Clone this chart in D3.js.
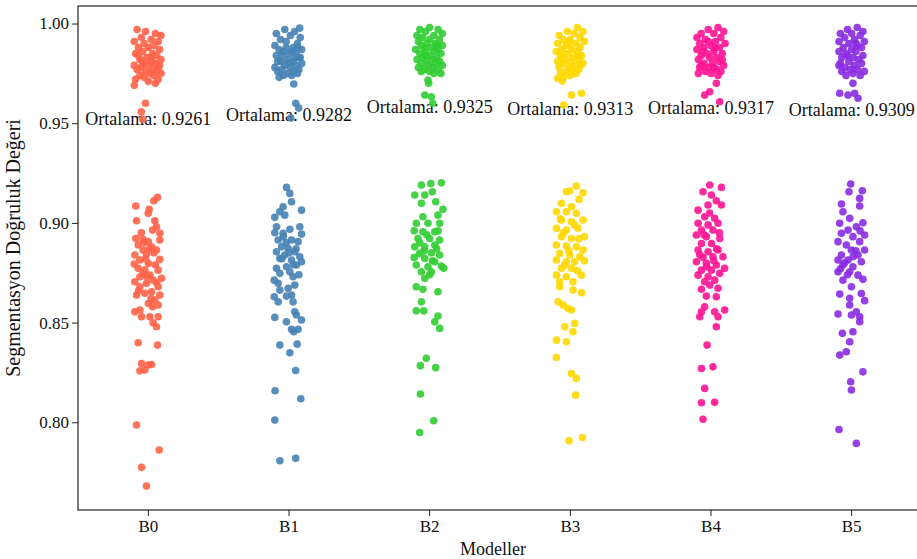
<!DOCTYPE html>
<html><head><meta charset="utf-8">
<script src="https://cdn.jsdelivr.net/npm/d3@7"></script>
<style>body{margin:0;background:#fff}svg{display:block}</style>
</head><body>
<svg id="c" width="917" height="559"></svg>
<script>
const categories = ["B0","B1","B2","B3","B4","B5"];
const colors = ["#FF6347","#4682B4","#32CD32","#FFD700","#FF1493","#8A2BE2"];
const means = [0.9261,0.9282,0.9325,0.9313,0.9317,0.9309];
const yTicks = [0.80,0.85,0.90,0.95,1.00];
// points: [jitter offset in category units, value]
const B0 = [[-0.08,0.997],[-0.02,0.996],[0.05,0.995],[0.09,0.994],[-0.05,0.993],[0.02,0.992],[-0.10,0.991],[0.07,0.991],[-0.03,0.990],[0.04,0.989],[-0.07,0.988],[0.00,0.988],[0.08,0.987],[-0.04,0.986],[0.03,0.985],[-0.09,0.985],[0.06,0.984],[-0.01,0.983],[-0.06,0.982],[0.09,0.982],[0.02,0.981],[-0.03,0.980],[0.05,0.980],[-0.10,0.979],[0.00,0.979],[0.07,0.978],[-0.05,0.978],[0.03,0.977],[-0.08,0.977],[0.06,0.976],[-0.02,0.976],[0.01,0.975],[0.09,0.975],[-0.06,0.974],[0.04,0.974],[-0.03,0.973],[0.07,0.972],[-0.09,0.972],[0.00,0.971],[0.05,0.970],[-0.10,0.969],[0.02,0.983],[-0.07,0.984],[0.08,0.979],[-0.04,0.981],[-0.02,0.960],[-0.05,0.9557],[-0.04,0.952],
[0.065,0.9128],[0.039,0.9111],[-0.089,0.9085],[0.006,0.9068],[-0.001,0.9048],[-0.084,0.9011],[0.046,0.9011],[0.058,0.8981],[0.030,0.8964],[0.082,0.8948],[-0.089,0.8922],[-0.037,0.8917],[0.000,0.8906],[0.082,0.8914],[-0.072,0.8889],[0.023,0.8880],[-0.037,0.8864],[0.058,0.8864],[-0.096,0.8839],[-0.013,0.8844],[0.082,0.8817],[-0.060,0.8814],[-0.100,0.8794],[0.000,0.8797],[-0.072,0.8772],[-0.025,0.8763],[0.070,0.8763],[0.011,0.8738],[-0.060,0.8730],[0.094,0.8722],[0.034,0.8713],[-0.096,0.8705],[-0.013,0.8697],[-0.060,0.8680],[0.070,0.8680],[0.023,0.8655],[-0.025,0.8647],[0.082,0.8638],[-0.084,0.8638],[0.046,0.8613],[0.000,0.8596],[0.070,0.8588],[-0.060,0.8563],[-0.096,0.8554],[-0.048,0.8529],[0.011,0.8529],[0.070,0.8529],[0.034,0.8499],[0.058,0.8479],[-0.072,0.8399],[0.065,0.8387],[-0.048,0.8295],[0.000,0.8287],[0.023,0.8290],[-0.060,0.8258],[-0.025,0.8262],[-0.084,0.7986],[0.077,0.7861],[-0.048,0.7774],[-0.013,0.7680],
[-0.05,0.8950],[0.01,0.8870],[-0.02,0.8820],[0.05,0.8790],[-0.04,0.8745],[0.06,0.8700],[-0.07,0.8660],[0.02,0.8620],[-0.03,0.8900],[0.04,0.8850],[-0.01,0.8730],[0.03,0.8580]];
const B1 = [[-0.09,0.995],[-0.03,0.997],[0.04,0.996],[0.08,0.993],[-0.06,0.992],[0.01,0.994],[-0.10,0.989],[0.06,0.990],[-0.02,0.991],[0.03,0.988],[-0.07,0.987],[0.09,0.987],[-0.04,0.986],[0.00,0.985],[0.05,0.985],[-0.09,0.984],[0.07,0.983],[-0.01,0.982],[-0.06,0.981],[0.03,0.981],[0.09,0.980],[-0.03,0.979],[0.05,0.979],[-0.10,0.978],[0.01,0.978],[-0.05,0.977],[0.07,0.977],[-0.08,0.976],[0.03,0.976],[-0.01,0.975],[0.06,0.975],[-0.04,0.974],[0.02,0.974],[-0.07,0.973],[0.08,0.983],[-0.02,0.988],[0.04,0.983],[-0.08,0.981],[0.00,0.980],[-0.05,0.984],[0.02,0.986],[0.06,0.988],[0.076,0.9977],[0.034,0.9697],[0.048,0.960],[0.069,0.9576],[0.013,0.9526],
[-0.018,0.9178],[0.006,0.9148],[0.018,0.9106],[-0.042,0.9081],[0.089,0.9064],[-0.065,0.9056],[-0.101,0.9028],[-0.030,0.9039],[-0.089,0.8981],[0.077,0.8981],[0.006,0.8968],[-0.101,0.8951],[-0.042,0.8948],[0.089,0.8944],[-0.077,0.8914],[0.018,0.8914],[0.065,0.8906],[-0.053,0.8880],[-0.006,0.8872],[-0.089,0.8855],[0.041,0.8855],[-0.030,0.8839],[0.077,0.8830],[-0.065,0.8822],[0.018,0.8814],[0.089,0.8805],[0.053,0.8789],[-0.018,0.8780],[-0.089,0.8772],[0.006,0.8755],[-0.065,0.8747],[0.029,0.8730],[-0.105,0.8713],[-0.077,0.8697],[-0.006,0.8672],[0.041,0.8688],[-0.065,0.8663],[-0.105,0.8630],[0.018,0.8638],[-0.018,0.8633],[-0.077,0.8604],[0.029,0.8604],[0.041,0.8554],[0.053,0.8538],[-0.101,0.8526],[0.089,0.8513],[-0.018,0.8504],[0.018,0.8466],[0.065,0.8466],[0.034,0.8454],[-0.065,0.8387],[0.058,0.8392],[0.006,0.8349],[0.048,0.8260],[-0.099,0.8158],[0.084,0.8118],[-0.101,0.8011],[-0.065,0.7807],[0.048,0.7819],
[-0.04,0.8930],[0.05,0.8870],[-0.02,0.8900],[0.03,0.8790],[-0.05,0.8820],[0.07,0.8740],[0.00,0.8850]];
const B2 = [[-0.07,0.997],[0.00,0.998],[0.06,0.997],[-0.03,0.996],[0.09,0.995],[-0.09,0.994],[0.03,0.994],[-0.05,0.993],[0.07,0.992],[0.00,0.992],[-0.08,0.991],[0.04,0.990],[-0.02,0.990],[0.09,0.989],[-0.06,0.989],[0.01,0.988],[-0.10,0.987],[0.06,0.987],[-0.03,0.986],[0.03,0.986],[-0.07,0.985],[0.08,0.985],[0.00,0.984],[-0.05,0.983],[0.05,0.983],[-0.09,0.982],[0.02,0.982],[-0.02,0.981],[0.07,0.981],[-0.06,0.980],[0.04,0.980],[-0.01,0.979],[0.09,0.979],[-0.08,0.978],[0.02,0.978],[-0.04,0.977],[0.06,0.977],[0.00,0.976],[-0.06,0.976],[0.03,0.975],[0.08,0.975],[-0.03,0.984],[0.05,0.989],[-0.04,0.988],[-0.012,0.9717],[-0.007,0.970],[-0.035,0.9641],[0.012,0.9633],[0.022,0.960],
[-0.059,0.9190],[0.008,0.9198],[0.083,0.9201],[-0.106,0.9140],[-0.035,0.9140],[0.019,0.9156],[-0.059,0.9098],[0.043,0.9106],[0.095,0.9068],[0.059,0.9039],[-0.048,0.9031],[-0.095,0.8998],[-0.012,0.8998],[0.071,0.8998],[-0.110,0.8961],[-0.048,0.8956],[0.036,0.8956],[-0.083,0.8922],[0.000,0.8922],[0.071,0.8914],[-0.106,0.8880],[-0.035,0.8880],[0.036,0.8889],[-0.071,0.8847],[0.012,0.8850],[0.071,0.8839],[-0.110,0.8827],[-0.035,0.8822],[0.036,0.8805],[-0.095,0.8789],[-0.012,0.8780],[0.083,0.8784],[-0.059,0.8755],[0.012,0.8755],[0.100,0.8772],[-0.035,0.8722],[-0.095,0.8680],[-0.048,0.8667],[0.059,0.8655],[-0.059,0.8604],[-0.095,0.8559],[-0.042,0.8559],[0.059,0.8533],[0.036,0.8504],[0.071,0.8471],[-0.024,0.8321],[-0.066,0.8284],[0.043,0.8274],[-0.066,0.8142],[0.029,0.8008],[-0.071,0.7949],
[-0.02,0.8940],[0.05,0.8870],[-0.07,0.8900],[0.02,0.8810],[-0.04,0.8860],[0.06,0.8960],[0.00,0.8740]];
const B3 = [[0.05,0.998],[0.09,0.996],[-0.02,0.996],[-0.08,0.994],[0.03,0.995],[0.07,0.993],[-0.05,0.992],[0.00,0.992],[0.10,0.991],[-0.09,0.990],[0.04,0.990],[-0.03,0.989],[0.07,0.988],[-0.06,0.987],[0.01,0.987],[-0.10,0.986],[0.05,0.986],[-0.02,0.985],[0.08,0.984],[-0.07,0.984],[0.02,0.983],[-0.04,0.982],[0.06,0.982],[-0.09,0.981],[0.00,0.981],[0.09,0.980],[-0.05,0.980],[0.03,0.979],[-0.01,0.978],[-0.08,0.978],[0.06,0.977],[-0.03,0.976],[0.02,0.976],[-0.07,0.975],[0.04,0.975],[0.00,0.974],[-0.05,0.973],[-0.09,0.9725],[0.07,0.979],[-0.06,0.983],[0.05,0.984],[-0.01,0.990],[-0.056,0.9712],[0.008,0.9641],[0.079,0.9650],[-0.047,0.9591],
[0.043,0.9185],[-0.028,0.9156],[-0.004,0.9160],[0.090,0.9151],[0.062,0.9118],[-0.063,0.9098],[0.008,0.9081],[-0.099,0.9056],[-0.028,0.9056],[0.043,0.9048],[0.090,0.9014],[-0.063,0.9014],[0.008,0.9006],[-0.099,0.8973],[-0.028,0.8964],[0.055,0.8973],[0.100,0.8931],[-0.063,0.8931],[0.008,0.8922],[-0.099,0.8889],[-0.028,0.8884],[0.043,0.8880],[0.090,0.8864],[-0.075,0.8847],[-0.004,0.8839],[0.067,0.8830],[-0.099,0.8814],[-0.028,0.8805],[0.031,0.8805],[0.100,0.8810],[-0.063,0.8772],[0.008,0.8772],[-0.099,0.8738],[-0.028,0.8730],[0.079,0.8738],[-0.075,0.8705],[0.019,0.8705],[-0.075,0.8680],[0.019,0.8663],[0.079,0.8650],[-0.087,0.8604],[-0.052,0.8588],[-0.016,0.8571],[0.008,0.8563],[0.031,0.8496],[-0.040,0.8479],[0.019,0.8454],[-0.099,0.8412],[-0.028,0.8404],[-0.099,0.8325],[0.008,0.8245],[0.043,0.8220],[0.038,0.8136],[-0.009,0.7907],[0.086,0.7924],
[-0.05,0.8950],[0.03,0.8990],[-0.01,0.8860],[0.06,0.8920],[-0.04,0.8790],[0.05,0.8760],[-0.07,0.9020]];
const B4 = [[-0.02,0.997],[0.05,0.998],[0.09,0.996],[-0.07,0.995],[0.02,0.995],[-0.10,0.993],[0.07,0.993],[-0.04,0.992],[0.03,0.991],[-0.08,0.990],[0.10,0.990],[0.00,0.989],[-0.05,0.988],[0.06,0.988],[-0.10,0.987],[0.02,0.986],[-0.03,0.985],[0.08,0.985],[-0.07,0.984],[0.04,0.983],[-0.01,0.983],[-0.09,0.982],[0.06,0.981],[0.01,0.980],[-0.05,0.980],[0.09,0.979],[-0.02,0.978],[-0.08,0.978],[0.04,0.977],[0.07,0.976],[-0.04,0.976],[0.00,0.975],[-0.09,0.975],[0.05,0.974],[-0.06,0.986],[0.03,0.988],[-0.02,0.991],[0.08,0.982],[-0.07,0.979],[0.02,0.978],[0.038,0.970],[-0.009,0.9658],[-0.045,0.9641],[0.062,0.9608],
[-0.009,0.9190],[0.074,0.9178],[-0.057,0.9156],[0.003,0.9140],[0.038,0.9111],[-0.021,0.9090],[0.074,0.9090],[-0.092,0.9064],[-0.045,0.9031],[0.026,0.9023],[0.050,0.8998],[-0.092,0.8998],[-0.021,0.8990],[-0.068,0.8964],[0.014,0.8964],[-0.104,0.8939],[-0.033,0.8931],[0.062,0.8922],[-0.068,0.8897],[0.003,0.8897],[-0.092,0.8864],[-0.021,0.8855],[0.050,0.8864],[-0.057,0.8827],[0.014,0.8830],[0.085,0.8830],[-0.104,0.8805],[-0.033,0.8797],[0.038,0.8789],[-0.068,0.8763],[0.003,0.8763],[0.097,0.8772],[-0.092,0.8738],[-0.021,0.8730],[0.062,0.8747],[-0.045,0.8705],[0.026,0.8713],[-0.009,0.8688],[-0.068,0.8667],[0.050,0.8672],[-0.033,0.8633],[0.038,0.8630],[-0.045,0.8579],[-0.068,0.8554],[0.026,0.8554],[0.097,0.8563],[-0.080,0.8529],[0.050,0.8529],[0.038,0.8479],[-0.028,0.8387],[-0.068,0.8270],[0.014,0.8278],[-0.045,0.8170],[-0.068,0.8098],[0.026,0.8100],[-0.057,0.8015],
[-0.05,0.8940],[0.04,0.8870],[-0.08,0.8840],[0.02,0.8810],[-0.03,0.8780],[0.06,0.8950],[-0.01,0.9050]];
const B5 = [[-0.03,0.997],[0.04,0.998],[0.08,0.996],[-0.08,0.995],[0.00,0.995],[-0.05,0.993],[0.06,0.994],[0.02,0.992],[-0.09,0.991],[0.09,0.991],[-0.02,0.990],[0.04,0.989],[-0.06,0.988],[0.07,0.988],[0.00,0.987],[-0.09,0.986],[0.03,0.986],[-0.04,0.985],[0.08,0.984],[-0.07,0.983],[0.01,0.983],[0.05,0.982],[-0.02,0.981],[-0.08,0.980],[0.07,0.980],[0.02,0.979],[-0.05,0.978],[0.04,0.977],[-0.01,0.977],[0.09,0.976],[-0.07,0.976],[0.01,0.975],[-0.04,0.974],[0.06,0.974],[-0.09,0.979],[0.03,0.990],[-0.03,0.984],[0.009,0.970],[0.021,0.965],[-0.085,0.965],[-0.026,0.9641],[0.045,0.9625],
[-0.007,0.9195],[-0.019,0.9156],[0.076,0.9161],[0.057,0.9123],[-0.073,0.9095],[0.057,0.9085],[-0.062,0.9056],[-0.014,0.9023],[0.080,0.9001],[-0.085,0.8998],[0.033,0.8981],[-0.026,0.8964],[0.092,0.8939],[-0.073,0.8948],[0.009,0.8931],[0.057,0.8906],[-0.097,0.8906],[-0.038,0.8889],[0.092,0.8864],[-0.002,0.8864],[-0.073,0.8839],[0.045,0.8839],[-0.097,0.8814],[-0.026,0.8814],[0.069,0.8805],[-0.062,0.8789],[0.009,0.8780],[-0.097,0.8755],[-0.014,0.8755],[0.045,0.8738],[0.080,0.8717],[-0.062,0.8713],[-0.002,0.8680],[-0.085,0.8643],[-0.014,0.8622],[0.069,0.8646],[0.092,0.8610],[-0.014,0.8588],[-0.097,0.8543],[-0.002,0.8538],[0.057,0.8529],[0.033,0.8554],[0.057,0.8504],[-0.066,0.8446],[0.009,0.8454],[-0.014,0.8404],[-0.038,0.8354],[-0.085,0.8337],[0.080,0.8253],[-0.007,0.8203],[-0.002,0.8162],[-0.090,0.7964],[0.033,0.7894],
[-0.05,0.8800],[0.03,0.8860],[-0.03,0.8740],[0.06,0.8960],[-0.08,0.8770],[0.01,0.8830]];
const series = [B0,B1,B2,B3,B4,B5];

const svg = d3.select("#c");
const L = 78, R = 922, T = 6, B = 510;
const font = "'Liberation Serif','Times New Roman',serif";
const x = d3.scaleBand().domain(categories).range([L, R]).padding(0);
const y = d3.scaleLinear().domain([0.756, 1.0088]).range([B, T]);

// axes
const yAxis = svg.append("g").attr("transform", `translate(${L},0)`)
  .call(d3.axisLeft(y).tickValues(yTicks).tickFormat(d3.format(".2f")).tickSize(6).tickPadding(3));
const xAxis = svg.append("g").attr("transform", `translate(0,${B})`)
  .call(d3.axisBottom(x).tickSize(6).tickPadding(4));
[yAxis, xAxis].forEach(g => {
  g.select(".domain").remove();
  g.selectAll("line").attr("stroke", "#222").attr("stroke-width", 1);
  g.selectAll("text").attr("font-family", font).attr("font-size", 17).attr("fill", "#111");
});
svg.append("rect").attr("x", L).attr("y", T).attr("width", R - L).attr("height", B - T)
  .attr("fill", "none").attr("stroke", "#222").attr("stroke-width", 1.2);

// mean labels (drawn under the points)
svg.append("g").selectAll("text").data(categories).join("text")
  .attr("x", d => x(d) + x.bandwidth() / 2)
  .attr("y", (d, i) => y(means[i] + 0.0228))
  .attr("text-anchor", "middle")
  .attr("font-family", font).attr("font-size", 18).attr("fill", "#111")
  .text((d, i) => "Ortalama: " + means[i].toFixed(4));

// points
series.forEach((pts, i) => {
  const cx = x(categories[i]) + x.bandwidth() / 2;
  svg.append("g").selectAll("circle").data(pts).join("circle")
    .attr("cx", d => cx + d[0] * x.bandwidth())
    .attr("cy", d => y(d[1]))
    .attr("r", 3.8)
    .attr("fill", colors[i])
    .attr("fill-opacity", 0.9);
});

// axis titles
svg.append("text").attr("x", 493).attr("y", 555).attr("text-anchor", "middle")
  .attr("font-family", font).attr("font-size", 18).attr("fill", "#111").text("Modeller");
svg.append("text").attr("transform", "translate(20,248) rotate(-90)").attr("text-anchor", "middle")
  .attr("font-family", font).attr("font-size", 20).attr("fill", "#111").text("Segmentasyon Doğruluk Değeri");
</script>
</body></html>
